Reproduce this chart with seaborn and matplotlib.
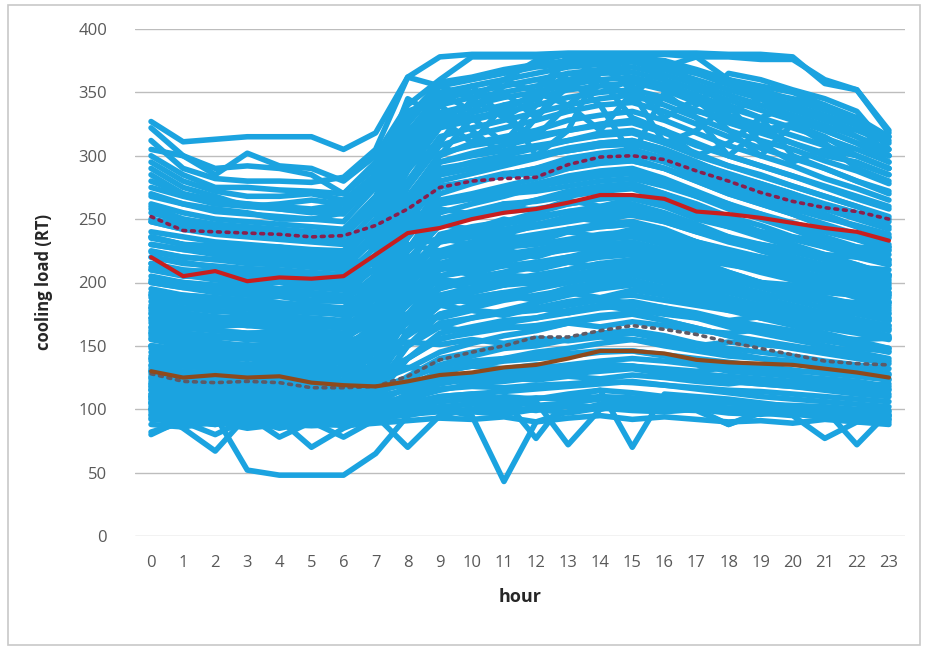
import numpy as np
import pandas as pd
import matplotlib
matplotlib.use("Agg")
import matplotlib.pyplot as plt
import seaborn as sns
from matplotlib.patches import Rectangle

hours = list(range(24))
y_ticks = [0, 50, 100, 150, 200, 250, 300, 350, 400]

# daily cooling-load profiles (RT)
day_profiles = {
    "u1": [327,311,313,315,315,315,305,318,362,378,380,380,380,381,381,381,381,381,380,380,378,357,352,320],
    "u2": [322,300,285,302,292,290,280,300,340,360,378,378,378,380,380,380,380,378,378,376,376,360,352,318],
    "u3": [312,290,282,280,280,279,283,305,362,355,345,360,350,378,380,376,370,365,360,350,345,340,330,315],
    "u4": [305,300,290,292,290,285,270,290,335,345,355,360,375,380,378,350,370,378,360,355,350,340,325,300],
    "u5": [300,285,275,275,273,272,270,295,330,350,335,355,360,355,365,378,360,340,365,360,352,345,335,305],
    "u6": [295,280,272,268,268,270,265,285,320,340,355,330,345,365,360,345,375,355,340,330,340,330,315,300],
    "u7": [290,275,268,260,262,265,262,280,310,330,340,350,330,355,350,360,355,345,335,345,330,320,310,295],
    "u8": [285,270,262,262,258,255,258,275,305,325,330,335,350,340,360,345,345,335,330,320,325,315,300,290],
    "m1": [280,270,265,262,260,258,262,285,320,300,330,310,340,380,360,330,320,300,310,330,300,290,280,270],
    "m2": [270,262,258,255,250,250,255,280,345,330,310,340,300,320,370,355,330,345,320,300,325,310,290,280],
    "m3": [260,250,245,242,240,238,240,265,300,340,320,300,330,360,340,300,350,330,300,320,310,300,295,285],
    "m4": [250,245,240,238,236,235,238,260,290,310,345,330,315,340,320,350,310,320,340,310,295,305,300,290],
    "b01": [88,86,90,85,88,90,87,89,91,93,92,94,90,93,95,92,94,92,90,91,89,92,90,88],
    "b02": [93,90,80,92,94,90,91,93,97,99,98,96,100,97,101,99,98,100,97,96,98,95,94,92],
    "b03": [100,85,67,95,98,96,95,97,100,102,104,106,103,105,108,106,104,102,100,101,99,98,97,95],
    "b04": [108,100,95,52,48,48,48,65,95,100,105,110,108,112,115,113,110,108,105,104,102,100,98,96],
    "b05": [105,102,104,100,103,101,99,102,104,100,95,43,90,98,104,108,106,103,101,100,99,97,95,94],
    "b06": [98,95,92,90,92,70,85,95,70,95,100,104,106,72,100,106,104,100,88,97,95,77,90,92],
    "b07": [110,108,106,104,103,100,98,100,105,110,112,108,77,110,115,70,112,110,108,105,102,100,72,98],
    "b08": [82,90,88,92,85,90,88,92,96,98,100,98,100,102,100,104,102,100,99,98,97,96,98,95],
    "b09": [112,110,108,110,106,108,105,104,108,115,120,122,125,128,130,132,128,125,122,120,118,116,114,112],
    "b10": [118,115,112,114,111,110,108,110,115,122,126,130,132,135,138,140,138,135,130,128,126,124,122,118],
    "b11": [120,118,116,118,115,113,112,114,120,128,135,140,145,148,152,155,150,146,142,140,138,135,132,128],
    "b12": [125,121,118,120,118,116,114,116,125,135,142,148,150,155,160,162,158,152,148,145,142,138,135,132],
    "b13": [130,126,124,122,125,120,118,122,132,145,152,158,162,168,172,175,170,164,158,154,150,146,142,138],
    "b14": [135,130,128,130,126,124,122,128,140,155,162,168,172,178,182,185,180,174,168,162,158,154,150,145],
    "b15": [140,136,134,132,134,130,128,135,150,165,172,178,184,190,195,198,192,185,178,172,168,164,160,155],
    "b16": [145,142,138,140,137,135,132,140,158,175,182,188,195,200,205,208,202,195,188,182,178,172,168,162],
    "b17": [150,146,144,142,140,140,138,148,168,185,192,198,205,210,215,218,212,205,198,192,186,180,175,170],
    "b18": [155,150,148,150,146,144,142,152,175,195,202,208,215,220,226,228,222,214,206,200,194,188,182,176],
    "b19": [160,156,152,150,152,148,146,158,182,205,212,218,225,232,236,238,232,224,216,210,202,196,190,184],
    "b20": [165,160,158,156,155,152,150,165,192,215,222,228,235,242,246,248,242,232,225,218,210,204,198,192],
    "b21": [170,166,162,160,160,158,156,170,200,225,232,238,245,252,256,258,250,242,234,226,220,212,206,198],
    "b22": [175,170,168,166,164,162,160,175,210,235,242,248,255,262,266,268,262,252,244,236,228,220,214,206],
    "b23": [180,176,172,170,170,166,165,182,218,245,252,258,265,272,276,278,270,262,252,245,236,228,220,214],
    "b24": [185,180,178,175,174,172,170,188,226,255,262,268,275,282,286,288,280,270,262,254,245,236,228,222],
    "b25": [190,186,182,180,178,176,175,195,235,265,270,276,282,290,295,296,290,280,270,262,254,245,236,228],
    "b26": [195,190,188,186,184,182,180,200,242,270,278,285,290,298,302,305,298,288,278,270,262,252,244,236],
    "b27": [200,196,192,190,190,186,185,206,250,280,286,292,298,305,310,312,305,295,285,278,270,260,252,244],
    "b28": [205,200,198,196,194,192,190,212,256,288,295,300,306,312,318,320,312,302,292,285,276,268,260,250],
    "b29": [210,206,202,200,200,196,195,218,262,295,302,308,314,320,325,328,320,310,300,292,284,275,266,258],
    "b30": [215,210,208,206,204,202,200,222,268,300,310,315,320,328,332,335,328,318,308,300,292,282,274,265],
    "b31": [220,216,212,210,208,206,205,228,275,308,316,322,328,335,340,342,335,325,315,306,298,290,280,272],
    "b32": [225,220,218,215,214,212,210,235,280,315,322,328,334,340,345,348,340,330,320,312,305,296,288,278],
    "b33": [230,226,222,220,218,216,215,240,288,322,328,334,340,346,350,352,346,336,326,318,310,302,294,285],
    "b34": [235,230,228,226,224,222,220,246,294,328,334,340,346,352,355,358,352,342,332,324,316,308,300,290],
    "b35": [240,236,232,230,228,226,225,250,300,334,340,346,350,356,360,362,356,348,338,330,322,314,305,295],
    "b36": [248,242,238,236,234,232,230,256,306,340,346,350,355,360,365,366,360,352,344,336,328,320,310,300],
    "b37": [255,248,244,242,240,238,236,262,312,345,350,355,360,365,368,370,364,356,348,340,332,324,315,305],
    "b38": [262,255,250,248,246,244,242,268,318,350,355,360,365,370,372,374,368,360,352,345,336,328,320,310],
    "b39": [268,262,256,254,252,250,248,275,325,355,360,365,370,372,375,376,372,365,356,348,340,332,324,312],
    "b40": [275,268,262,260,258,256,254,280,330,358,362,368,372,375,378,378,375,368,360,352,344,336,328,315],
    "b41": [80,92,88,95,78,90,78,92,96,100,98,102,99,104,101,103,100,99,88,98,96,94,92,90],
    "f01": [120,118,122,119,121,117,118,120,122,124,121,125,123,126,124,127,125,122,120,123,121,119,118,120],
    "f02": [130,128,131,127,129,126,128,131,133,130,134,132,135,133,136,134,132,130,133,131,129,130,128,127],
    "f03": [150,147,149,146,148,145,147,150,153,151,155,152,156,154,157,155,152,150,153,151,149,147,148,146],
    "f04": [160,158,156,159,155,157,154,158,162,165,161,166,163,168,165,169,166,162,160,163,158,157,155,156],
    "f05": [172,168,170,166,168,165,167,170,175,172,178,174,180,176,182,178,175,172,170,173,168,166,165,163],
    "f06": [182,180,177,179,175,178,174,178,185,188,184,190,186,192,188,194,190,185,182,180,178,175,176,172],
    "f07": [192,190,188,186,189,185,186,190,196,200,195,202,198,205,200,206,202,196,194,190,188,186,184,182],
    "f08": [202,200,197,199,195,196,194,200,208,212,206,214,210,216,212,218,214,208,204,200,198,195,192,190],
    "f09": [212,208,210,206,205,203,204,210,218,224,218,226,220,228,224,230,226,218,214,210,208,204,202,200],
    "f10": [224,220,218,219,215,214,212,220,228,235,230,238,232,240,236,242,236,228,224,220,216,214,212,210],
    "f11": [236,230,229,226,228,224,222,230,240,246,242,250,245,252,248,254,248,240,234,230,226,222,220,218],
    "f12": [248,242,240,238,236,235,232,240,252,258,254,262,256,265,260,266,260,250,244,240,236,232,228,226],
    "d01": [258,250,246,244,242,240,238,236,230,225,222,220,224,226,228,230,226,222,218,215,212,210,208,205],
    "d02": [236,230,226,222,224,220,218,214,208,202,200,198,204,206,210,212,208,204,200,198,195,192,190,188],
    "d03": [215,208,204,200,202,198,196,192,188,182,178,176,180,185,188,190,186,182,178,176,172,170,168,166],
    "r01": [100,98,96,97,95,94,96,110,140,160,165,170,172,176,180,182,178,172,165,160,155,150,145,140],
    "r02": [105,102,100,101,99,98,100,118,150,175,180,186,190,194,198,200,195,188,180,172,166,160,154,148],
    "r03": [110,107,105,104,103,102,104,125,162,190,196,202,206,210,214,216,210,202,194,186,178,170,164,158],
    "r04": [115,112,110,108,108,106,108,132,175,205,210,216,222,226,230,232,226,218,208,200,192,184,176,170],
    "r05": [118,115,113,112,111,110,112,140,188,220,226,232,236,240,245,248,240,232,222,214,205,196,188,180],
    "r06": [122,119,117,116,115,114,116,148,200,235,240,246,250,256,260,262,255,246,236,226,216,208,200,192],
    "r07": [126,122,120,119,118,117,119,155,212,250,255,260,265,270,275,278,270,260,250,240,230,220,212,204],
    "r08": [130,126,124,123,122,121,123,162,225,262,268,272,278,284,288,290,282,272,262,252,242,232,222,214],
    "r09": [134,130,128,127,126,125,127,170,236,275,280,285,290,296,300,302,295,285,275,264,254,244,234,225],
    "r10": [138,134,132,131,130,129,131,176,245,285,290,295,300,306,310,312,305,295,284,274,264,254,244,235],
    "r11": [96,94,93,92,92,91,92,100,112,120,124,126,128,130,132,134,130,126,122,120,118,115,112,110],
    "r12": [102,100,98,97,96,95,96,104,118,130,134,138,140,142,145,146,142,138,134,130,126,122,118,115],
    "r13": [106,104,102,101,100,99,100,110,126,140,145,150,152,155,158,160,155,150,145,140,136,132,128,124],
    "r14": [92,90,89,88,88,87,88,94,104,110,112,114,116,118,120,122,119,116,113,110,108,106,104,102],
    "c01": [100,97,99,96,98,95,97,115,150,168,172,176,178,182,186,184,180,176,170,166,162,158,152,148],
    "c02": [108,105,103,106,102,104,101,122,160,182,188,192,188,196,200,202,196,190,184,178,172,166,162,156],
    "c03": [116,112,115,110,112,109,108,130,172,196,200,206,204,210,215,212,208,200,194,188,182,176,170,164],
    "c04": [124,120,118,121,117,116,115,138,185,210,215,220,222,228,232,230,224,216,208,200,195,188,182,175],
    "c05": [132,128,126,125,128,124,122,146,196,224,228,234,238,242,244,246,238,230,220,212,206,198,192,184],
    "c06": [140,135,133,136,132,130,129,154,205,238,244,248,252,256,258,260,252,244,234,225,218,210,202,195],
    "c07": [148,144,141,140,142,138,136,162,215,250,256,262,264,268,272,274,266,256,246,238,230,222,214,206],
    "c08": [156,152,149,151,147,146,144,170,226,262,268,274,276,280,284,286,278,268,258,250,242,234,226,218],
    "c09": [164,160,157,156,158,154,152,180,238,275,280,286,288,292,296,298,290,280,270,262,254,246,238,230],
    "c10": [172,168,165,167,163,162,160,188,248,285,290,296,300,304,308,310,302,292,282,274,266,258,250,242],
    "c11": [180,176,173,172,171,170,168,196,258,295,300,304,308,312,316,318,310,300,292,284,276,268,260,252],
    "c12": [188,184,181,183,179,178,176,204,266,302,308,312,316,320,324,326,318,308,300,292,284,276,268,260],
    "c13": [158,155,153,150,151,149,147,160,190,212,218,222,226,230,234,236,230,222,215,208,202,196,190,185],
    "c14": [168,164,162,160,161,158,156,170,200,222,228,232,236,240,244,246,240,232,226,220,214,208,202,196],
    "c15": [178,174,172,170,171,168,166,180,210,232,238,242,246,250,254,256,250,242,236,230,224,218,212,206],
    "c16": [142,139,137,135,136,133,131,145,175,198,204,208,212,216,220,222,216,208,202,196,190,184,178,172],
    "c17": [128,125,123,121,122,119,117,132,160,182,188,192,196,200,204,206,200,192,186,180,174,168,162,157],
    "c18": [112,109,107,106,105,104,103,115,140,156,160,164,166,170,174,176,170,164,158,152,148,144,140,136],
    "g01": [95,93,94,92,93,91,92,96,102,106,108,107,109,108,110,109,108,106,105,104,103,102,100,99],
    "g02": [104,102,103,101,100,99,100,104,110,116,118,117,119,120,122,121,119,117,115,114,112,110,108,106],
    "g03": [110,108,109,107,106,105,104,108,116,124,128,127,130,131,133,134,131,128,126,124,122,120,118,116],
    "g04": [115,113,114,112,111,110,109,114,124,134,138,140,142,144,146,146,143,140,137,134,131,128,126,123],
    "g05": [200,196,195,193,192,190,188,200,225,248,252,256,258,262,266,268,262,254,246,240,234,228,222,216],
    "g06": [210,205,204,202,201,199,197,210,238,262,266,270,272,276,280,282,276,268,260,254,247,240,234,228],
    "g07": [220,215,213,211,210,208,206,220,250,276,280,284,286,290,294,296,290,282,274,266,258,251,245,238],
    "g08": [190,186,185,183,182,180,178,188,212,232,236,240,244,248,252,253,248,240,232,226,220,214,208,202],
    "g09": [176,172,171,169,168,166,164,176,200,220,224,228,230,234,238,240,234,226,219,213,207,201,196,190],
    "g10": [150,147,146,144,143,141,140,150,172,190,194,198,200,204,208,210,205,198,192,186,181,176,171,166],
    "g11": [162,158,157,155,154,152,150,162,186,205,209,213,216,220,223,225,219,212,205,199,193,188,183,178],
    "g12": [230,226,224,222,221,219,217,232,262,290,294,297,300,304,308,309,303,294,286,278,270,262,255,248],
}

mean_load = [220,205,209,201,204,203,205,222,239,243,250,255,258,263,269,269,266,256,254,251,247,243,240,233]
upper_load = [252,241,240,239,238,236,237,245,258,275,280,282,283,293,299,300,297,288,280,271,264,259,256,250]
median_load = [130,125,127,125,126,121,119,118,122,127,129,133,135,140,146,146,144,139,137,136,135,132,129,125]
lower_load = [128,122,121,122,121,117,117,118,126,139,145,150,157,157,162,166,163,159,153,148,143,138,136,135]

rows = []
for name, vals in day_profiles.items():
    for h, v in zip(hours, vals):
        rows.append({"day": name, "hour": h, "load": v})
df = pd.DataFrame(rows)

sns.set_style("white")
plt.rcParams["font.family"] = ["Open Sans", "DejaVu Sans"]

fig = plt.figure(figsize=(9.25, 6.5), dpi=100)
ax = fig.add_axes([135/925, 1-536/650, 770/925, 507/650])

blue = "#1ba3e0"
sns.lineplot(data=df, x="hour", y="load", units="day", estimator=None,
             color=blue, lw=4.0, ax=ax, legend=False, zorder=2)

sns.lineplot(x=hours, y=upper_load, color="#8a1f4d", lw=2.6, ax=ax,
             linestyle=(0, (0.8, 1.6)), dash_capstyle="round", zorder=5)
sns.lineplot(x=hours, y=mean_load, color="#c81e1e", lw=3.0, ax=ax, zorder=6)
sns.lineplot(x=hours, y=lower_load, color="#5e5a66", lw=2.6, ax=ax,
             linestyle=(0, (0.8, 1.6)), dash_capstyle="round", zorder=5)
sns.lineplot(x=hours, y=median_load, color="#8e4a1c", lw=3.0, ax=ax, zorder=6)

ax.set_xlim(-0.5, 23.5)
ax.set_ylim(0, 400)
ax.set_yticks(y_ticks)
ax.set_xticks(hours)
ax.set_xticklabels([str(h) for h in hours])
ax.yaxis.grid(True, color="#bdbdbd", lw=1.0, zorder=0)
ax.xaxis.grid(False)
ax.set_axisbelow(True)
for s in ax.spines.values():
    s.set_visible(False)
ax.tick_params(axis="both", length=0, labelsize=12, labelcolor="#595959")
ax.tick_params(axis="y", pad=20)
ax.tick_params(axis="x", pad=14)
ax.set_xlabel("hour", fontsize=13, fontweight="bold", labelpad=12)
ax.set_ylabel("cooling load (RT)", fontsize=12, fontweight="bold", labelpad=18)

fig.patches.append(Rectangle((8/925, 1-645/650), 912/925, 640/650,
                             transform=fig.transFigure, fill=False,
                             edgecolor="#c8c8c8", lw=1.2))

fig.savefig("out.png", dpi=100)
